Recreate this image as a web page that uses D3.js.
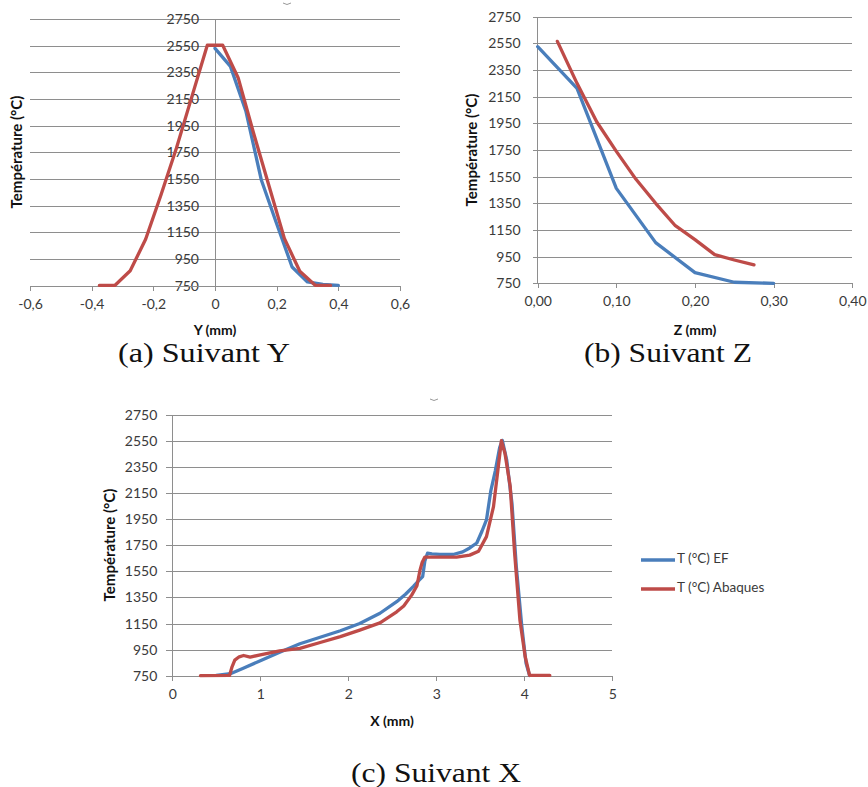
<!DOCTYPE html>
<html>
<head>
<meta charset="utf-8">
<script src="https://cdn.jsdelivr.net/npm/d3@7"></script>
<style>
  html, body { margin: 0; padding: 0; background: #fff; }
  svg { display: block; }
  .tick text { font-family: Lato, "Open Sans", sans-serif; }
</style>
</head>
<body>
<svg id="chart" width="868" height="787"></svg>
<script>
// ---------- DATA ----------
const tempTicks = [750, 950, 1150, 1350, 1550, 1750, 1950, 2150, 2350, 2550, 2750];

// (a) Suivant Y
const ticksY = [-0.6, -0.4, -0.2, 0, 0.2, 0.4, 0.6];
const aEF_pos = [0, 0.05, 0.10, 0.15, 0.20, 0.25, 0.30, 0.35, 0.40];
const aEF_T   = [2530, 2395, 2060, 1545, 1215, 890, 778, 760, 752];
const aAb_pos = [-0.375, -0.325, -0.275, -0.225, -0.175, -0.125, -0.075, -0.025, 0.025, 0.075, 0.125, 0.175, 0.225, 0.275, 0.325, 0.375];
const aAb_T   = [752, 752, 862, 1098, 1432, 1782, 2168, 2553, 2553, 2310, 1895, 1500, 1105, 858, 753, 752];

// (b) Suivant Z
const ticksZ = [0, 0.1, 0.2, 0.3, 0.4];
const bEF_pos = [0, 0.05, 0.10, 0.15, 0.20, 0.25, 0.30];
const bEF_T   = [2525, 2212, 1462, 1055, 830, 758, 750];
const bAb_pos = [0.025, 0.05, 0.075, 0.10, 0.125, 0.15, 0.175, 0.20, 0.225, 0.25, 0.275];
const bAb_T   = [2565, 2250, 1962, 1740, 1530, 1350, 1182, 1078, 965, 925, 888];

// (c) Suivant X
const ticksX = [0, 1, 2, 3, 4, 5];
const cEF_pos = [0.50, 0.66, 0.80, 1.00, 1.22, 1.45, 1.68, 1.91, 2.13, 2.36, 2.55, 2.65, 2.74, 2.80, 2.845, 2.87, 2.90, 2.95, 3.04, 3.19, 3.30, 3.38, 3.46, 3.52, 3.57, 3.62, 3.67, 3.72, 3.75, 3.80, 3.86, 3.91, 3.97, 4.02, 4.06];
const cEF_T   = [752, 765, 805, 865, 930, 995, 1045, 1095, 1150, 1229, 1318, 1375, 1435, 1480, 1510, 1630, 1690, 1685, 1680, 1680, 1700, 1730, 1768, 1860, 1945, 2170, 2320, 2500, 2555, 2405, 2072, 1580, 1140, 845, 752];
const cAb_pos = [0.32, 0.65, 0.68, 0.71, 0.76, 0.81, 0.885, 1.00, 1.22, 1.45, 1.68, 1.91, 2.13, 2.36, 2.55, 2.63, 2.72, 2.78, 2.815, 2.84, 2.87, 2.95, 3.23, 3.38, 3.48, 3.57, 3.65, 3.70, 3.74, 3.78, 3.84, 3.89, 3.95, 4.01, 4.06, 4.29];
const cAb_T   = [750, 752, 820, 870, 895, 905, 893, 910, 940, 960, 1005, 1050, 1100, 1155, 1240, 1285, 1368, 1440, 1560, 1620, 1660, 1660, 1660, 1675, 1705, 1817, 2047, 2328, 2553, 2457, 2201, 1690, 1178, 896, 752, 752];

const seriesNames = ["T (°C) EF", "T (°C) Abaques"];
const seriesColors = ["#4A7EBB", "#BE4B48"];
const yTitle = "Température (°C)";
const captions = ["(a) Suivant Y", "(b) Suivant Z", "(c) Suivant X"];

// ---------- DRAW ----------
const svg = d3.select("#chart");
const FONT = "Lato, 'Open Sans', sans-serif";
const GRID = "#8e8e8e";
const LABEL = "#3a3a3a";

const zip = (xs, ys) => xs.map((x, i) => [x, ys[i]]);
const commaFmt = d => (d === 0 ? "0" : d3.format(".1f")(d).replace(".", ",").replace("\u2212", "-"));
const commaFmt2 = d => d3.format(".2f")(d).replace(".", ",").replace("\u2212", "-");

function panel(o) {
  const g = svg.append("g");
  const x = d3.scaleLinear().domain(o.xDomain).range(o.xRange);
  const y = d3.scaleLinear().domain([750, 2750]).range(o.yRange);

  // horizontal grid lines
  const grid = d3.axisRight(y).tickValues(tempTicks).tickSize(o.gridRight - o.gridLeft).tickFormat("");
  g.append("g").attr("transform", `translate(${o.gridLeft},0)`).call(grid)
    .call(s => s.select(".domain").remove())
    .call(s => s.selectAll("line").attr("stroke", GRID).attr("shape-rendering", "crispEdges"));

  // vertical axis line
  const ax = x(o.yAxisAt);
  g.append("line").attr("x1", ax).attr("x2", ax).attr("y1", y(2750)).attr("y2", y(750))
    .attr("stroke", GRID).attr("shape-rendering", "crispEdges");

  // y tick labels
  const yl = d3.axisLeft(y).tickValues(tempTicks).tickSize(0).tickPadding(o.yPad).tickFormat(d3.format("d"));
  g.append("g").attr("transform", `translate(${ax},0)`).call(yl)
    .call(s => s.select(".domain").remove())
    .call(s => s.selectAll("text").attr("fill", LABEL).attr("font-size", 14).attr("font-family", FONT));

  // x axis
  const xa = d3.axisBottom(x).tickValues(o.xTicks).tickSize(5).tickSizeOuter(0).tickPadding(8).tickFormat(o.fmt);
  g.append("g").attr("transform", `translate(0,${y(750)})`).call(xa)
    .call(s => s.select(".domain").attr("stroke", GRID).attr("shape-rendering", "crispEdges"))
    .call(s => s.selectAll(".tick line").attr("stroke", GRID).attr("shape-rendering", "crispEdges"))
    .call(s => s.selectAll("text").attr("fill", LABEL).attr("font-size", 14).attr("font-family", FONT));

  // series
  const line = d3.line().x(d => x(d[0])).y(d => y(d[1]));
  o.series.forEach((s, i) => {
    g.append("path").datum(s).attr("d", line).attr("fill", "none")
      .attr("stroke", seriesColors[i]).attr("stroke-width", 3.3)
      .attr("stroke-linejoin", "round").attr("stroke-linecap", "round");
  });

  // titles
  g.append("text").attr("transform", `translate(${o.yTitlePos[0]},${o.yTitlePos[1]}) rotate(-90)`)
    .attr("text-anchor", "middle").attr("dominant-baseline", "middle")
    .attr("font-family", FONT).attr("font-weight", "bold").attr("font-size", 15).attr("fill", "#111")
    .text(yTitle);
  g.append("text").attr("x", o.xTitlePos[0]).attr("y", o.xTitlePos[1])
    .attr("text-anchor", "middle").attr("dominant-baseline", "middle")
    .attr("font-family", FONT).attr("font-weight", "bold").attr("font-size", 14).attr("fill", "#111")
    .text(o.xTitle);
  return {x, y};
}

panel({
  xDomain: [-0.6, 0.6], xRange: [30, 400], yRange: [285.7, 19],
  gridLeft: 30, gridRight: 400, yAxisAt: 0, yPad: 16,
  xTicks: ticksY, fmt: commaFmt,
  series: [zip(aEF_pos, aEF_T), zip(aAb_pos, aAb_T)],
  yTitlePos: [18, 152], xTitle: "Y (mm)", xTitlePos: [215, 331]
});

panel({
  xDomain: [0, 0.4], xRange: [537.7, 852.3], yRange: [283.3, 16.7],
  gridLeft: 533, gridRight: 852.3, yAxisAt: 0, yPad: 17,
  xTicks: ticksZ, fmt: commaFmt2,
  series: [zip(bEF_pos, bEF_T), zip(bAb_pos, bAb_T)],
  yTitlePos: [473, 150], xTitle: "Z (mm)", xTitlePos: [695, 331]
});

panel({
  xDomain: [0, 5], xRange: [172.3, 612.3], yRange: [675.7, 415],
  gridLeft: 166, gridRight: 612.3, yAxisAt: 0, yPad: 15,
  xTicks: ticksX, fmt: d3.format("d"),
  series: [zip(cEF_pos, cEF_T), zip(cAb_pos, cAb_T)],
  yTitlePos: [111, 545], xTitle: "X (mm)", xTitlePos: [392, 722]
});

// legend for (c)
const legY = [560, 589];
seriesNames.forEach((n, i) => {
  svg.append("line").attr("x1", 641).attr("x2", 675).attr("y1", legY[i]).attr("y2", legY[i])
    .attr("stroke", seriesColors[i]).attr("stroke-width", 3.3);
  svg.append("text").attr("x", 677).attr("y", legY[i]).attr("dominant-baseline", "middle")
    .attr("font-family", FONT).attr("font-size", 13.5).attr("fill", LABEL).text(n);
});

// small stray marks (remnants in the original)
[[287, 4], [434, 400]].forEach(p => {
  svg.append("path").attr("d", `M${p[0]-4},${p[1]-1} Q${p[0]},${p[1]+2} ${p[0]+4},${p[1]-1}`)
    .attr("fill", "none").attr("stroke", "#999").attr("stroke-width", 1);
});

// captions
const capPos = [[204, 362, 172], [668, 362, 168], [436, 782, 170]];
captions.forEach((c, i) => {
  svg.append("text").attr("x", capPos[i][0]).attr("y", capPos[i][1])
    .attr("text-anchor", "middle")
    .attr("font-family", "'Liberation Serif', 'DejaVu Serif', serif").attr("font-size", 27)
    .attr("fill", "#111")
    .attr("textLength", capPos[i][2]).attr("lengthAdjust", "spacingAndGlyphs")
    .text(c);
});
</script>
</body>
</html>
